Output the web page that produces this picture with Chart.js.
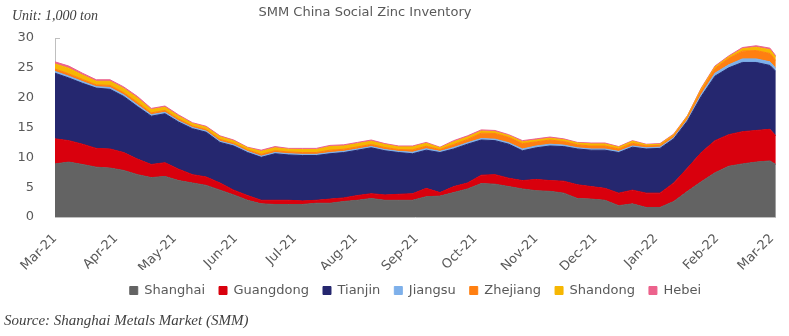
<!DOCTYPE html>
<html>
<head>
<meta charset="utf-8">
<script src="https://cdn.jsdelivr.net/npm/chart.js@4"></script>
<style>
  html, body { margin: 0; background: #fff; }
</style>
</head>
<body>
<canvas id="zinc-chart" width="789" height="336"></canvas>
<script>
// fechas semanales (lunes) + ultimo dato jueves 3 mar 2022
const fechas = [
  '2021-03-01','2021-03-08','2021-03-15','2021-03-22','2021-03-29',
  '2021-04-05','2021-04-12','2021-04-19','2021-04-26',
  '2021-05-03','2021-05-10','2021-05-17','2021-05-24','2021-05-31',
  '2021-06-07','2021-06-14','2021-06-21','2021-06-28',
  '2021-07-05','2021-07-12','2021-07-19','2021-07-26',
  '2021-08-02','2021-08-09','2021-08-16','2021-08-23','2021-08-30',
  '2021-09-06','2021-09-13','2021-09-20','2021-09-27',
  '2021-10-04','2021-10-11','2021-10-18','2021-10-25',
  '2021-11-01','2021-11-08','2021-11-15','2021-11-22','2021-11-29',
  '2021-12-06','2021-12-13','2021-12-20','2021-12-27',
  '2022-01-03','2022-01-10','2022-01-17','2022-01-24','2022-01-31',
  '2022-02-07','2022-02-14','2022-02-21','2022-02-28','2022-03-03'
]

const shanghai = [8.9,9.2,8.8,8.35,8.2, 7.8,7.1,6.6,6.8, 6.1,5.7,5.3,4.5,3.7, 2.8,2.2,2.1,2.1, 2.1,2.3,2.3,2.6,
  2.8,3.1,2.8,2.8,2.8, 3.4,3.5,4.1,4.7, 5.6,5.5,5.1,4.7, 4.4,4.3,4.0,3.1,3.0, 2.8,1.9,2.2,1.6,
  1.6,2.6,4.3,5.9,7.4, 8.5,8.9,9.2,9.4,8.8]
const guangdong = [4.2,3.6,3.4,3.15,3.2, 3.0,2.6,2.2,2.3, 1.9,1.4,1.4,1.2,0.8, 0.8,0.6,0.7,0.7, 0.6,0.5,0.7,0.6,
  0.8,0.8,0.9,1.0,1.1, 1.4,0.6,1.0,1.0, 1.4,1.6,1.4,1.4, 1.9,1.8,2.0,2.3,2.1, 2.0,2.1,2.3,2.4,
  2.4,3.1,3.9,4.9,5.4, 5.3,5.4,5.3,5.3,4.8]
const tianjin = [11.0,10.5,10.2,10.1,10.0, 9.4,8.8,8.1,8.2, 7.9,7.7,7.5,6.8,7.4, 7.2,7.2,7.8,7.6, 7.6,7.5,7.6,7.6,
  7.6,7.7,7.4,7.0,6.7, 6.4,6.7,6.3,6.5, 5.9,5.7,5.7,5.0, 5.3,5.8,5.8,6.0,6.1, 6.4,6.8,7.2,7.4,
  7.5,7.4,7.9,9.4,10.8, 11.2,11.6,11.4,10.7,10.8]
const jiangsu = [0.3,0.3,0.3,0.25,0.3, 0.3,0.3,0.25,0.25, 0.2,0.2,0.2,0.2,0.2, 0.2,0.2,0.2,0.2, 0.2,0.2,0.2,0.2,
  0.2,0.2,0.2,0.2,0.25, 0.25,0.2,0.25,0.25, 0.25,0.25,0.25,0.3, 0.3,0.3,0.25,0.2,0.2, 0.2,0.2,0.2,0.2,
  0.2,0.2,0.2,0.35,0.5, 0.5,0.6,0.6,0.6,0.5]
const zhejiang = [0.4,0.4,0.35,0.3,0.35, 0.35,0.4,0.3,0.3, 0.3,0.25,0.25,0.3,0.25, 0.25,0.3,0.3,0.3, 0.3,0.3,0.4,0.35,
  0.35,0.35,0.35,0.3,0.4, 0.4,0.3,0.5,0.55, 0.9,0.95,0.9,0.9, 0.7,0.7,0.6,0.5,0.5, 0.5,0.4,0.45,0.3,
  0.3,0.3,0.35,0.6,0.8, 1.1,1.3,1.4,1.4,1.3]
const shandong = [0.85,0.95,0.75,0.6,0.7, 0.7,0.75,0.55,0.55, 0.5,0.4,0.4,0.45,0.4, 0.35,0.5,0.5,0.45, 0.5,0.5,0.6,0.55,
  0.55,0.55,0.5,0.45,0.5, 0.5,0.3,0.45,0.4, 0.35,0.3,0.3,0.3, 0.3,0.3,0.3,0.3,0.35, 0.35,0.3,0.35,0.2,
  0.2,0.2,0.25,0.3,0.25, 0.25,0.4,0.55,0.65,0.55]
const hebei = [0.35,0.35,0.3,0.25,0.25, 0.25,0.25,0.2,0.2, 0.2,0.15,0.15,0.15,0.15, 0.1,0.2,0.2,0.15, 0.2,0.2,0.2,0.2,
  0.2,0.2,0.15,0.15,0.15, 0.15,0.1,0.2,0.2, 0.2,0.2,0.15,0.2, 0.2,0.2,0.15,0.1,0.15, 0.15,0.1,0.1,0.1,
  0.1,0.1,0.1,0.15,0.15, 0.15,0.2,0.25,0.25,0.25]

const inicioMeses = ['2021-03-01','2021-04-01','2021-05-01','2021-06-01','2021-07-01','2021-08-01','2021-09-01',
  '2021-10-01','2021-11-01','2021-12-01','2022-01-01','2022-02-01','2022-03-01']
const etiquetasMes = ['Mar-21','Apr-21','May-21','Jun-21','Jul-21','Aug-21','Sep-21',
  'Oct-21','Nov-21','Dec-21','Jan-22','Feb-22','Mar-22']

const titulo = 'SMM China Social Zinc Inventory'
const unidad = 'Unit: 1,000 ton'
const fuente = 'Source: Shanghai Metals Market (SMM)'

const series = [
  { nombre: 'Shanghai', valores: shanghai, color: '#636363' },
  { nombre: 'Guangdong', valores: guangdong, color: '#D9000D' },
  { nombre: 'Tianjin', valores: tianjin, color: '#25276F' },
  { nombre: 'Jiangsu', valores: jiangsu, color: '#7EB0EA' },
  { nombre: 'Zhejiang', valores: zhejiang, color: '#FF7F11' },
  { nombre: 'Shandong', valores: shandong, color: '#F6B702' },
  { nombre: 'Hebei', valores: hebei, color: '#EC628C' }
]

const dia0 = Date.UTC(2021, 2, 1)
const aDias = (f) => {
  const [a, m, d] = f.split('-').map(Number)
  return (Date.UTC(a, m - 1, d) - dia0) / 86400000
}
const dias = fechas.map(aDias)
const diasMes = inicioMeses.map(aDias)

const gris = '#595959'
const canvasZinc = document.querySelector('#zinc-chart')

const textosPlugin = {
  id: 'textos',
  afterDraw(chart) {
    const ctx = chart.ctx
    ctx.save()
    ctx.fillStyle = gris
    ctx.font = '13px "DejaVu Sans"'
    ctx.textAlign = 'center'
    ctx.textBaseline = 'middle'
    ctx.fillText(titulo, 365, 13)
    ctx.fillStyle = '#404040'
    ctx.font = 'italic 14px "Liberation Serif"'
    ctx.textAlign = 'left'
    ctx.fillText(unidad, 12, 16)
    ctx.font = 'italic 15px "Liberation Serif"'
    ctx.fillText(fuente, 4, 321)
    ctx.restore()
  }
}

const datasets = series.map((s, i) => ({
  label: s.nombre,
  data: s.valores.map((v, k) => ({ x: dias[k], y: v })),
  backgroundColor: s.color,
  borderColor: s.color,
  borderWidth: 1,
  pointRadius: 0,
  tension: 0,
  fill: i === 0 ? 'origin' : '-1'
}))

new Chart(canvasZinc, {
  type: 'line',
  data: { datasets },
  options: {
    responsive: false,
    animation: false,
    layout: { padding: { top: 38, right: 9, bottom: 29, left: 0 } },
    plugins: {
      legend: {
        position: 'bottom',
        fullSize: false,
        labels: {
          boxWidth: 8,
          boxHeight: 8,
          padding: 14,
          color: gris,
          font: { size: 13, family: 'DejaVu Sans' }
        }
      },
      tooltip: { enabled: false }
    },
    scales: {
      x: {
        type: 'linear',
        min: 0,
        max: dias[dias.length - 1],
        afterBuildTicks: (scale) => { scale.ticks = diasMes.map(v => ({ value: v })) },
        afterFit: (scale) => { scale.height = 53 },
        ticks: {
          autoSkip: false,
          maxRotation: 45,
          minRotation: 45,
          padding: 6,
          color: gris,
          font: { size: 13, family: 'DejaVu Sans' },
          callback: (v, i) => etiquetasMes[i]
        },
        grid: { display: false },
        border: { display: true, color: '#bfbfbf' }
      },
      y: {
        stacked: true,
        min: 0,
        max: 30,
        afterFit: (scale) => { scale.width = 55 },
        ticks: {
          stepSize: 5,
          padding: 26,
          color: gris,
          font: { size: 13, family: 'DejaVu Sans' }
        },
        grid: { drawOnChartArea: false, drawTicks: true, tickLength: -5, color: '#bfbfbf' },
        border: { display: true, color: '#bfbfbf' }
      }
    }
  },
  plugins: [textosPlugin]
})
</script>
</body>
</html>
